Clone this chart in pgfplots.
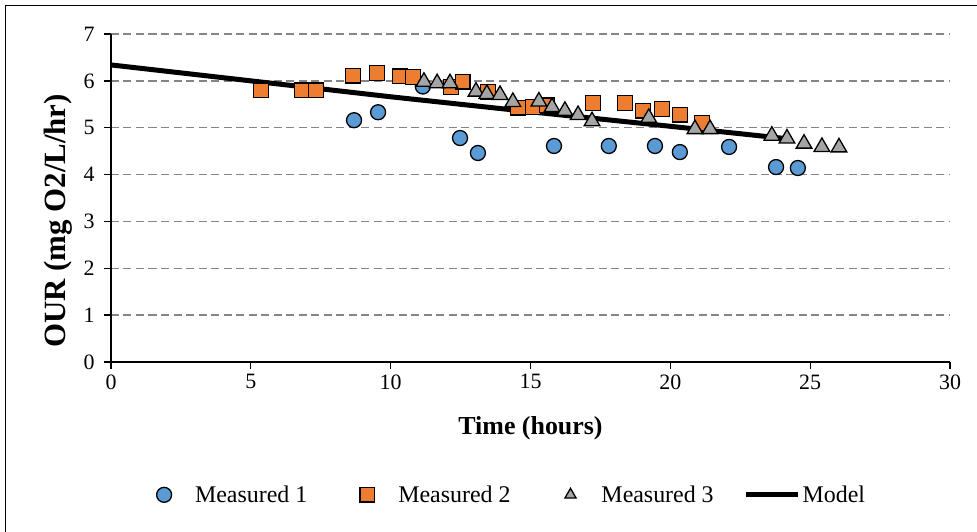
\documentclass[border=0pt]{standalone}
\usepackage{fontspec}
\setmainfont{Liberation Serif}
\usepackage{pgfplots}
\pgfplotsset{compat=1.18}
\definecolor{mone}{HTML}{5B9BD5}
\definecolor{mtwo}{HTML}{ED7D31}
\definecolor{mthree}{HTML}{A5A5A5}
\definecolor{gridgray}{HTML}{858585}
\begin{document}
\begin{tikzpicture}[x=1bp,y=1bp]
\useasboundingbox (-111,-170) rectangle (866,362);
\draw[line width=1.3bp] (-105.5,-200) -- (-105.5,356.5) -- (900,356.5);
\begin{axis}[
  at={(0,0)}, anchor=south west,
  scale only axis, width=839bp, height=328bp,
  xmin=0, xmax=30, ymin=0, ymax=7,
  xtick={0,5,...,30}, ytick={0,1,...,7},
  axis x line*=bottom, axis y line*=left,
  axis line style={line width=1.5bp, black},
  tick align=outside, major tick length=7bp,
  tick style={line width=1.3bp, black},
  ymajorgrids,
  grid style={line width=1.5bp, gridgray, dash pattern=on 8bp off 4.5bp},
  /pgf/number format/assume math mode=true,
  tick label style={font=\fontsize{22}{26}\selectfont},
  xticklabel style={yshift=-2bp},
  yticklabel style={xshift=-6bp},
  xlabel={\textbf{Time (hours)}},
  xlabel style={font=\fontsize{26}{30}\selectfont, at={(axis description cs:0.5,-0.201)}, anchor=center},
  ylabel={\textbf{OUR (mg O2/L/hr)}},
  ylabel style={font=\fontsize{31}{35}\selectfont, at={(axis description cs:-0.063,0.43)}, anchor=center},
  legend columns=4,
  legend style={draw=none, fill=none, font=\fontsize{24}{28}\selectfont,
    at={(axis description cs:0.905,-0.405)}, anchor=east,
    /tikz/every even column/.append style={column sep=28bp},
    /tikz/every odd column/.append style={column sep=0bp}},
  legend cell align=left,
  clip=false,
]
\addplot[only marks, mark=*, mark size=7.5bp, mark options={fill=mone, draw=black, line width=1.3bp},
  legend image code/.code={\path[draw=none] (0bp,0bp) -- (59bp,0bp); \path[draw=none, mark repeat=2,mark phase=2] plot coordinates {(0bp,0bp) (30bp,0bp) (59bp,0bp)};}]
coordinates {(8.69,5.16)(9.55,5.33)(11.15,5.88)(12.48,4.78)(13.12,4.46)(15.84,4.61)(17.8,4.61)(19.45,4.61)(20.34,4.48)(22.1,4.59)(23.78,4.16)(24.56,4.14)};
\addlegendentry{Measured 1}
\addplot[only marks, mark=square*, mark size=7.3bp, mark options={fill=mtwo, draw=black, line width=1.3bp},
  legend image code/.code={\path[draw=none] (0bp,0bp) -- (59bp,0bp); \path[draw=none, mark repeat=2,mark phase=2] plot coordinates {(0bp,0bp) (30bp,0bp) (59bp,0bp)};}]
coordinates {(5.36,5.80)(6.83,5.80)(7.33,5.80)(8.65,6.11)(9.51,6.17)(10.33,6.10)(10.8,6.08)(12.16,5.87)(12.58,5.98)(13.48,5.76)(14.55,5.43)(15.09,5.44)(15.59,5.48)(17.23,5.53)(18.38,5.53)(19.02,5.36)(19.7,5.40)(20.34,5.28)(21.13,5.10)};
\addlegendentry{Measured 2}
\addplot[only marks, mark=triangle*, mark size=9bp, mark options={fill=mthree, draw=black, line width=1.3bp},
  legend image code/.code={\path[draw=none] (0bp,0bp) -- (59bp,0bp); \path[draw=none, mark repeat=2,mark phase=2,mark size=6.5bp] plot coordinates {(0bp,0bp) (30bp,0bp) (59bp,0bp)};}]
coordinates {(11.19,5.98)(11.66,5.95)(12.12,5.95)(13.05,5.77)(13.44,5.72)(13.91,5.70)(14.37,5.55)(15.30,5.56)(15.77,5.44)(16.23,5.36)(16.7,5.27)(17.2,5.14)(19.23,5.21)(20.88,4.97)(21.42,4.97)(23.63,4.83)(24.17,4.77)(24.78,4.66)(25.42,4.59)(26.03,4.58)};
\addlegendentry{Measured 3}
\addplot[black, line width=5bp, no marks,
  legend image code/.code={\draw[black, line width=5bp] (0bp,0bp) -- (52bp,0bp);}]
coordinates {(0,6.34)(5,6.0)(10,5.66)(15,5.34)(20,5.03)(24.1,4.77)};
\addlegendentry{Model}
\end{axis}
\end{tikzpicture}
\end{document}
